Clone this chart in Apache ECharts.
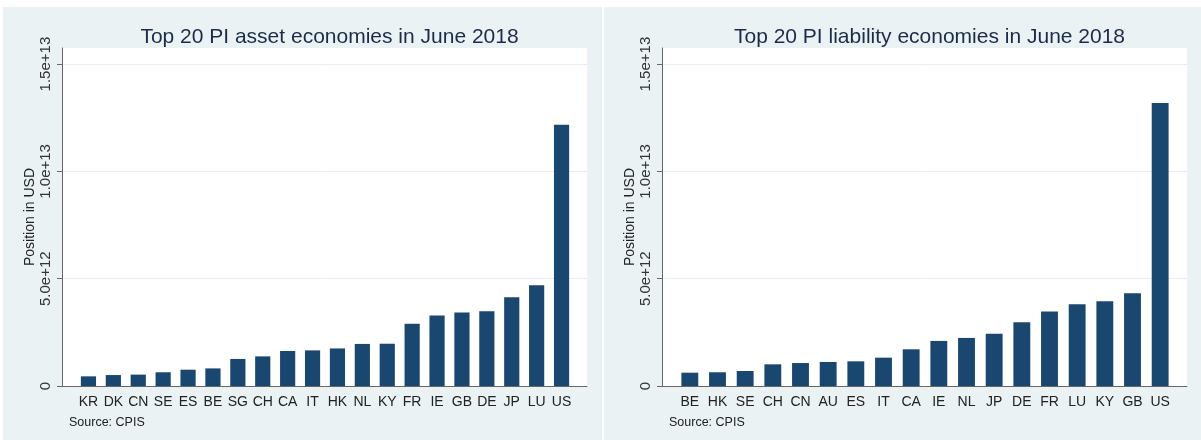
<!DOCTYPE html>
<html>
<head>
<meta charset="utf-8">
<script src="https://cdn.jsdelivr.net/npm/echarts@6/dist/echarts.min.js"></script>
<style>
  html, body { margin: 0; padding: 0; background: #fff; }
  #wrap { position: relative; width: 1201px; height: 440px; }
  .panel { position: absolute; top: 7px; height: 433px; }
  #left { left: 3px; width: 599px; }
  #right { left: 604px; width: 597px; }
</style>
</head>
<body>
<div id="wrap">
  <div id="left" class="panel"></div>
  <div id="right" class="panel"></div>
</div>
<script>
// values in USD
const assetCountries = ['KR', 'DK', 'CN', 'SE', 'ES', 'BE', 'SG', 'CH', 'CA', 'IT', 'HK', 'NL', 'KY', 'FR', 'IE', 'GB', 'DE', 'JP', 'LU', 'US'];
const assetValues = [0.45e12, 0.51e12, 0.53e12, 0.64e12, 0.76e12, 0.82e12, 1.26e12, 1.38e12, 1.63e12, 1.66e12,
  1.75e12, 1.96e12, 1.97e12, 2.90e12, 3.28e12, 3.43e12, 3.48e12, 4.13e12, 4.69e12, 12.17e12];

const liabilityCountries = ['BE', 'HK', 'SE', 'CH', 'CN', 'AU', 'ES', 'IT', 'CA', 'IE', 'NL', 'JP', 'DE', 'FR', 'LU', 'KY', 'GB', 'US'];
const liabilityValues = [0.62e12, 0.64e12, 0.70e12, 1.01e12, 1.07e12, 1.12e12, 1.15e12, 1.32e12, 1.71e12, 2.10e12,
  2.24e12, 2.43e12, 2.97e12, 3.47e12, 3.81e12, 3.95e12, 4.32e12, 13.19e12];

const yTicks = [0, 5e12, 1e13, 1.5e13];
const yTickLabels = ['0', '5.0e+12', '1.0e+13', '1.5e+13'];

const FONT = "'Liberation Sans', Arial, sans-serif";
const BG = '#eaf2f3';
const NAVY = '#1a476f';
const Y_MAX = 1.575e13;

function drawPanel(el, titleText, countries, values, plotLeft, barLeft) {
  const chart = echarts.init(el);
  const plotTop = 41, plotH = 338, plotW = 525, barW = 498;
  chart.setOption({
    backgroundColor: BG,
    animation: false,
    title: [
      {
        text: titleText,
        left: plotLeft + plotW / 2,
        top: 15,
        textAlign: 'center',
        textStyle: { fontFamily: FONT, fontSize: 21, fontWeight: 'normal', color: '#1c2b4a' }
      },
      {
        text: 'Source: CPIS',
        left: plotLeft + 2,
        top: 404,
        textStyle: { fontFamily: FONT, fontSize: 12.5, fontWeight: 'normal', color: '#222' }
      }
    ],
    grid: [
      { left: plotLeft, top: plotTop, width: plotW, height: plotH, show: true, backgroundColor: '#fff', borderWidth: 0 },
      { left: barLeft, top: plotTop, width: barW, height: plotH }
    ],
    xAxis: [
      {
        gridIndex: 0, type: 'value', min: 0, max: 1,
        axisLine: { show: true, lineStyle: { color: '#666', width: 1 } },
        axisTick: { show: false }, axisLabel: { show: false }, splitLine: { show: false }
      },
      {
        gridIndex: 1, type: 'category', data: countries,
        axisLine: { show: false }, axisTick: { show: false },
        axisLabel: { margin: 9, fontFamily: FONT, fontSize: 14, color: '#222', interval: 0 }
      }
    ],
    yAxis: [
      {
        gridIndex: 0, type: 'value', min: 0, max: Y_MAX, interval: 5e12,
        name: 'Position in USD', nameLocation: 'middle', nameRotate: 90, nameGap: 25,
        nameMoveOverlap: false,
        nameTextStyle: { fontFamily: FONT, fontSize: 14, color: '#222' },
        axisLine: { show: true, lineStyle: { color: '#666', width: 1 } },
        axisTick: { show: true, length: 5, customValues: yTicks, lineStyle: { color: '#666' } },
        axisLabel: {
          customValues: yTicks, rotate: 90, margin: 9,
          fontFamily: FONT, fontSize: 15, color: '#333',
          formatter: (v) => yTickLabels[yTicks.indexOf(v)]
        },
        splitLine: { show: true, lineStyle: { color: '#e6eef0', width: 1 } }
      },
      { gridIndex: 1, type: 'value', min: 0, max: Y_MAX, show: false }
    ],
    series: [
      {
        type: 'bar', xAxisIndex: 1, yAxisIndex: 1,
        data: values, barWidth: '61%',
        itemStyle: { color: NAVY }
      }
    ]
  });
}

drawPanel(document.getElementById('left'), 'Top 20 PI asset economies in June 2018', assetCountries, assetValues, 59, 73);
drawPanel(document.getElementById('right'), 'Top 20 PI liability economies in June 2018', liabilityCountries, liabilityValues, 58, 72);
</script>
</body>
</html>
